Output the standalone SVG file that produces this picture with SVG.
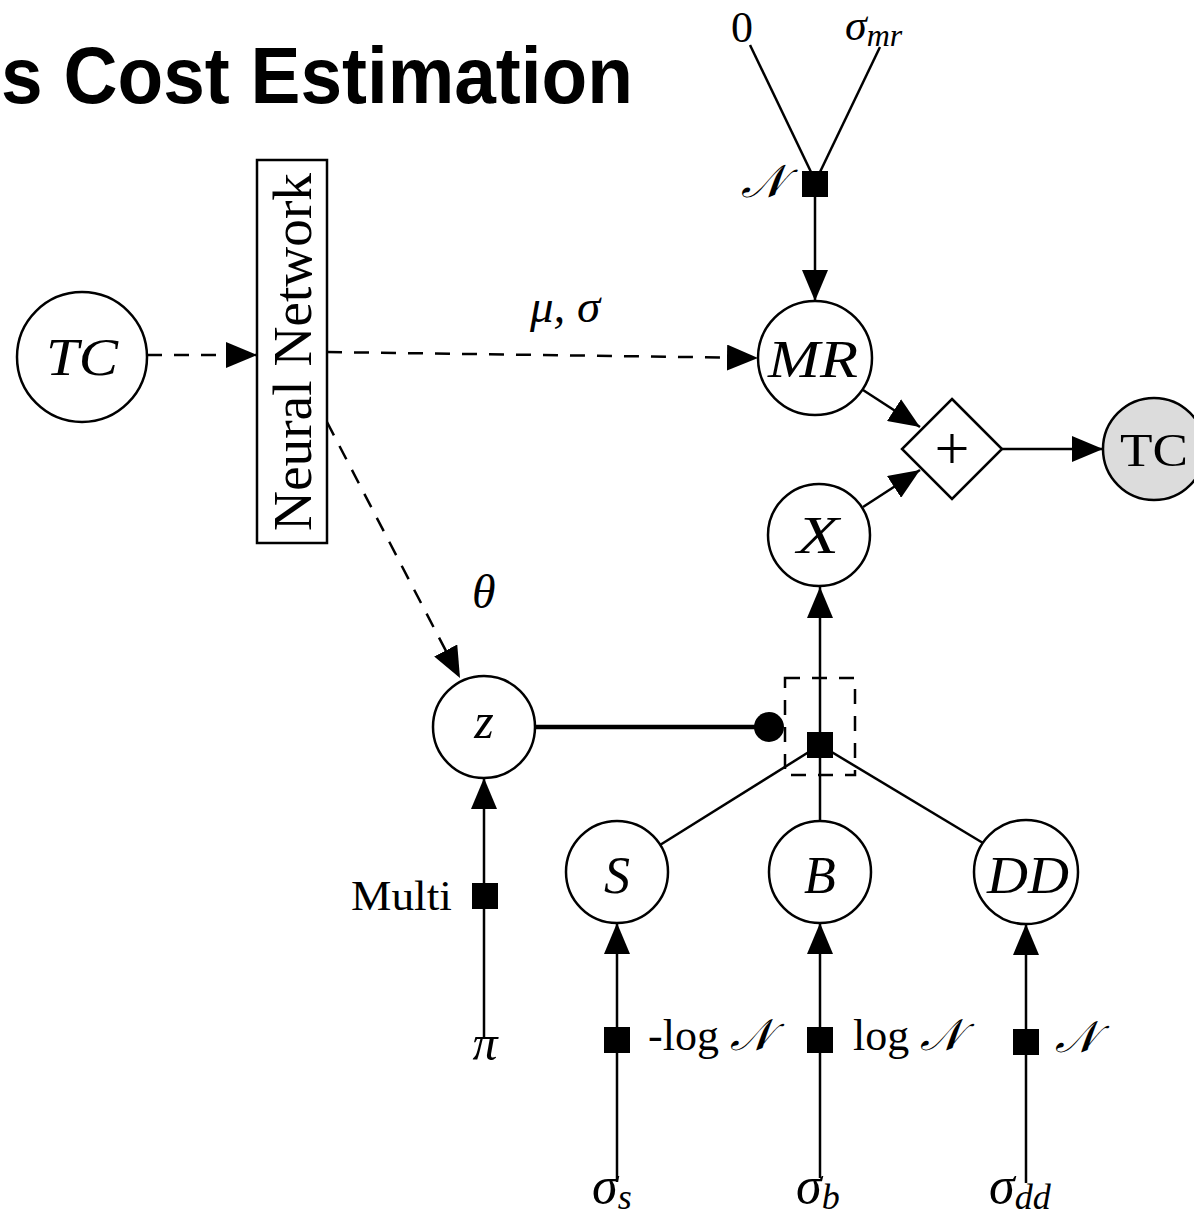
<svg xmlns="http://www.w3.org/2000/svg" width="1194" height="1217" viewBox="0 0 1194 1217">
  <style>
    .node { fill: #ffffff; stroke: #000000; stroke-width: 2.5; }
    .obs { fill: #dcdcdc; stroke: #000000; stroke-width: 2.5; }
    .edge { fill: none; stroke: #000000; stroke-width: 2.5; }
    .dash { fill: none; stroke: #000000; stroke-width: 2.5; stroke-dasharray: 15 12; }
    .factor { fill: #000000; stroke: none; }
    .math { font-family: "Liberation Serif", "DejaVu Serif", serif; font-style: italic; fill: #000000; }
    .rm { font-family: "Liberation Serif", "DejaVu Serif", serif; fill: #000000; }
    .title { font-family: "Liberation Sans", Arial, sans-serif; font-weight: bold; fill: #000000; }
  </style>
  <defs>
    <marker id="arrow" markerUnits="userSpaceOnUse" viewBox="0 0 32 26" markerWidth="32" markerHeight="26" refX="31" refY="13" orient="auto">
      <path d="M0,0 L31,13 L0,26 z" fill="#000000"/>
    </marker>
  </defs>

  <rect width="1194" height="1217" fill="#ffffff"/>

  <text class="title" x="1" y="103" font-size="80" textLength="632" lengthAdjust="spacingAndGlyphs">s Cost Estimation</text>

  <!-- connectors -->
  <g id="connectors">
    <line class="dash" x1="147" y1="355" x2="257" y2="355" marker-end="url(#arrow)"/>
    <line class="dash" x1="327" y1="352" x2="758" y2="358" marker-end="url(#arrow)"/>
    <line class="dash" x1="327" y1="422" x2="460" y2="678" marker-end="url(#arrow)"/>

    <line class="edge" x1="750" y1="45" x2="811" y2="172"/>
    <line class="edge" x1="880" y1="47" x2="820" y2="172"/>
    <line class="edge" x1="815" y1="184" x2="815" y2="301" marker-end="url(#arrow)"/>

    <line class="edge" x1="863" y1="390" x2="920" y2="427" marker-end="url(#arrow)"/>
    <line class="edge" x1="863" y1="507" x2="920" y2="470" marker-end="url(#arrow)"/>
    <line class="edge" x1="1002" y1="449" x2="1103" y2="449" marker-end="url(#arrow)"/>

    <line class="edge" x1="820" y1="745" x2="820" y2="587" marker-end="url(#arrow)"/>
    <line class="edge" x1="820" y1="745" x2="660" y2="845"/>
    <line class="edge" x1="820" y1="745" x2="820" y2="821"/>
    <line class="edge" x1="820" y1="745" x2="983" y2="843"/>
    <line x1="535" y1="727" x2="760" y2="727" stroke="#000000" stroke-width="4.5"/>
    <rect x="785" y="678" width="70" height="97" class="dash"/>

    <line class="edge" x1="484" y1="1037" x2="484" y2="778" marker-end="url(#arrow)"/>
    <line class="edge" x1="617" y1="1182" x2="617" y2="923" marker-end="url(#arrow)"/>
    <line class="edge" x1="820" y1="1178" x2="820" y2="923" marker-end="url(#arrow)"/>
    <line class="edge" x1="1026" y1="1183" x2="1026" y2="924" marker-end="url(#arrow)"/>
  </g>

  <!-- factor squares and the gate dot -->
  <g id="factor-mr"><rect class="factor" x="802" y="171" width="26" height="26"/>
    <text class="math" x="741" y="197" font-size="46">𝒩</text></g>
  <g id="factor-x"><rect class="factor" x="807" y="732" width="26" height="26"/>
    <circle class="factor" cx="769" cy="727" r="15"/></g>
  <g id="factor-z"><rect class="factor" x="472" y="883" width="26" height="26"/>
    <text class="rm" x="351" y="910" font-size="42" textLength="101" lengthAdjust="spacingAndGlyphs">Multi</text></g>
  <g id="factor-s"><rect class="factor" x="604" y="1027" width="26" height="26"/>
    <text class="rm" x="648" y="1050" font-size="44">-log <tspan class="math">𝒩</tspan></text></g>
  <g id="factor-b"><rect class="factor" x="807" y="1027" width="26" height="26"/>
    <text class="rm" x="853" y="1050" font-size="44">log <tspan class="math">𝒩</tspan></text></g>
  <g id="factor-dd"><rect class="factor" x="1013" y="1029" width="26" height="26"/>
    <text class="math" x="1055" y="1052" font-size="44">𝒩</text></g>

  <!-- nodes -->
  <g id="node-tc-in"><circle class="node" cx="82" cy="357" r="65"/>
    <text class="math" x="82" y="375" font-size="52" text-anchor="middle" textLength="72" lengthAdjust="spacingAndGlyphs">TC</text></g>
  <g id="node-nn"><rect class="node" x="257" y="160" width="70" height="383"/>
    <text class="rm" transform="translate(311,352) rotate(-90)" x="0" y="0" font-size="55" text-anchor="middle" textLength="358" lengthAdjust="spacingAndGlyphs">Neural Network</text></g>
  <g id="node-mr"><circle class="node" cx="815" cy="358" r="57"/>
    <text class="math" x="813" y="377" font-size="52" text-anchor="middle" textLength="90" lengthAdjust="spacingAndGlyphs">MR</text></g>
  <g id="node-x"><circle class="node" cx="819" cy="535" r="51"/>
    <text class="math" x="818" y="553" font-size="52" text-anchor="middle" textLength="42" lengthAdjust="spacingAndGlyphs">X</text></g>
  <g id="node-sum"><path class="node" d="M952,399 L1002,449 L952,499 L902,449 z"/>
    <text class="rm" x="952" y="469" font-size="62" text-anchor="middle">+</text></g>
  <g id="node-tc-out"><circle class="obs" cx="1154" cy="449" r="51"/>
    <text class="rm" x="1120" y="466" font-size="46" textLength="68" lengthAdjust="spacingAndGlyphs">TC</text></g>
  <g id="node-z"><circle class="node" cx="484" cy="727" r="51"/>
    <text class="math" x="484" y="738" font-size="50" text-anchor="middle">z</text></g>
  <g id="node-s"><circle class="node" cx="617" cy="872" r="51"/>
    <text class="math" x="617" y="893" font-size="52" text-anchor="middle">S</text></g>
  <g id="node-b"><circle class="node" cx="820" cy="872" r="51"/>
    <text class="math" x="820" y="893" font-size="52" text-anchor="middle">B</text></g>
  <g id="node-dd"><circle class="node" cx="1026" cy="872" r="52"/>
    <text class="math" x="1028" y="893" font-size="52" text-anchor="middle" textLength="82" lengthAdjust="spacingAndGlyphs">DD</text></g>

  <!-- parameters and edge labels -->
  <g id="param-zero"><text class="rm" x="742" y="42" font-size="44" text-anchor="middle">0</text></g>
  <g id="param-sigma-mr"><text class="math" x="845" y="40" font-size="44">σ<tspan font-size="32" dy="6">mr</tspan></text></g>
  <g id="param-pi"><text class="math" x="485" y="1060" font-size="50" text-anchor="middle">π</text></g>
  <g id="param-sigma-s"><text class="math" x="592" y="1203" font-size="52">σ<tspan font-size="36" dy="6">s</tspan></text></g>
  <g id="param-sigma-b"><text class="math" x="796" y="1203" font-size="52">σ<tspan font-size="36" dy="6">b</tspan></text></g>
  <g id="param-sigma-dd"><text class="math" x="989" y="1203" font-size="52">σ<tspan font-size="36" dy="6">dd</tspan></text></g>
  <text class="math" x="530" y="322" font-size="47">μ, σ</text>
  <text class="math" x="472" y="608" font-size="48">θ</text>
</svg>
